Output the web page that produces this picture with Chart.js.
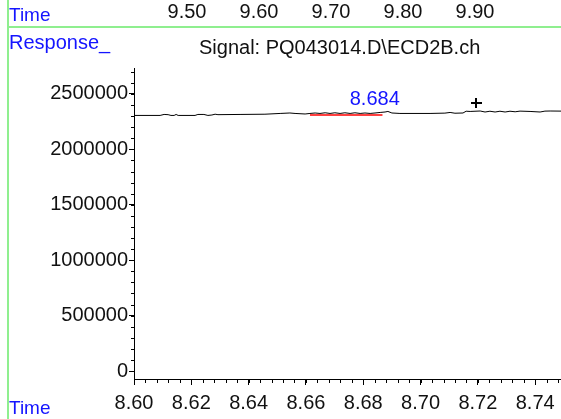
<!DOCTYPE html>
<html>
<head>
<meta charset="utf-8">
<script src="https://cdn.jsdelivr.net/npm/chart.js@4"></script>
<style>
  body { margin: 0; background: #fff; }
  #wrap { position: relative; width: 561px; height: 419px; overflow: hidden; font-family: 'Liberation Sans', Arial, sans-serif; }
  #chart { position: absolute; left: 0; top: 0; }
  .txt { position: absolute; white-space: nowrap; line-height: 1; }
  .blue { color: #1414ff; }
  .green { position: absolute; background: #8fef8f; }
</style>
</head>
<body>
<div id="wrap">
  <canvas id="chart" width="561" height="419"></canvas>
  <div class="green" style="left:7px; top:0; width:2px; height:419px;"></div>
  <div class="green" style="left:7px; top:26px; width:554px; height:2px;"></div>
  <div class="txt blue" style="left:9px; top:5px; font-size:19px;">Time</div>
  <div id="top-times"></div>
  <div class="txt blue" style="left:9px; top:32px; font-size:20px;">Response_</div>
  <div class="txt" style="left:199px; top:37px; font-size:20px; color:#111;">Signal: PQ043014.D\ECD2B.ch</div>
  <div class="txt blue" style="left:9px; top:398px; font-size:19px;">Time</div>
</div>
<script>
// ------------------------------------------------------------
// Cromatograma ECD2B — trecho 8.60 a 8.75 min
// ------------------------------------------------------------

// rótulos do eixo de tempo da janela de cima (9.50 ... 9.90)
const topoTempos = ['9.50', '9.60', '9.70', '9.80', '9.90'];
const topoPosX   = [187, 259, 331, 403, 475];

// sinal (tempo em min, resposta)
const tempos = [
  8.6000, 8.6091, 8.6105, 8.6119, 8.6129, 8.6140, 8.6147, 8.6154, 8.6213, 8.6223,
  8.6244, 8.6258, 8.6272, 8.6283, 8.6293, 8.6370, 8.6457, 8.6510, 8.6544, 8.6562,
  8.6597, 8.6614, 8.6632, 8.6649, 8.6667, 8.6684, 8.6701, 8.6719, 8.6736, 8.6754,
  8.6771, 8.6789, 8.6806, 8.6824, 8.6841, 8.6859, 8.6876, 8.6886, 8.6900, 8.6928,
  8.7033, 8.7085, 8.7103, 8.7120, 8.7148, 8.7159, 8.7173, 8.7208, 8.7225, 8.7242,
  8.7260, 8.7277, 8.7295, 8.7312, 8.7330, 8.7347, 8.7382, 8.7417, 8.7434, 8.7452,
  8.7490,
];
const respostas = [
  2306000, 2306000, 2315000, 2313000, 2306000, 2306000, 2315000, 2306000, 2306000, 2315000,
  2315000, 2306000, 2310000, 2317000, 2313000, 2315000, 2317000, 2324000, 2328000, 2324000,
  2319000, 2324000, 2328000, 2324000, 2330000, 2324000, 2330000, 2324000, 2330000, 2324000,
  2330000, 2324000, 2328000, 2324000, 2328000, 2333000, 2337000, 2342000, 2328000, 2324000,
  2324000, 2327000, 2333000, 2326000, 2328000, 2344000, 2342000, 2346000, 2337000, 2344000,
  2337000, 2344000, 2337000, 2344000, 2339000, 2345000, 2342000, 2337000, 2345000, 2346000,
  2345000,
];

// linha de base da integração (vermelha)
const baseTempos    = [8.6614, 8.6867];
const baseRespostas = [2311000, 2311000];

// pico identificado e marcador "+"
const picoTempo    = 8.684;
const picoRotulo   = '8.684';
const marcaTempo   = 8.7193;
const marcaResp    = 2418000;

// eixos
const xTicks = [8.60, 8.62, 8.64, 8.66, 8.68, 8.70, 8.72, 8.74];
const yTicks = [0, 500000, 1000000, 1500000, 2000000, 2500000];
const X_MIN = 8.60, X_MAX = 8.749;
const Y_MIN = -72000, Y_MAX = 2734000;

const serie = tempos.map((t, i) => ({ x: t, y: respostas[i] }));
const base  = baseTempos.map((t, i) => ({ x: t, y: baseRespostas[i] }));

// rótulos de cima
const topo = document.getElementById('top-times');
topo.innerHTML = topoTempos.map((t, i) =>
  `<div class="txt" style="left:${topoPosX[i] - 30}px; top:1px; width:60px; text-align:center; font-size:20px; color:#111;">${t}</div>`
).join('');

Chart.defaults.font.family = "'Liberation Sans', Arial, sans-serif";
Chart.defaults.color = '#111';

// ticks menores + anotações do pico
const extras = {
  id: 'extras',
  afterDatasetsDraw(chart) {
    const { ctx, scales: { x, y }, chartArea } = chart;
    ctx.save();
    ctx.strokeStyle = '#000';
    ctx.lineWidth = 1;
    ctx.beginPath();
    for (let i = 0; i <= 40; i++) {
      const t = 8.60 + i * 0.004;
      if (t > X_MAX) break;
      const px = Math.round(x.getPixelForValue(t)) + 0.5;
      ctx.moveTo(px, chartArea.bottom);
      ctx.lineTo(px, chartArea.bottom + 4);
    }
    for (let v = 0; v <= Y_MAX; v += 100000) {
      const py = Math.round(y.getPixelForValue(v)) + 0.5;
      ctx.moveTo(chartArea.left - 3, py);
      ctx.lineTo(chartArea.left, py);
    }
    ctx.stroke();

    // rótulo do pico
    ctx.fillStyle = '#1414ff';
    ctx.font = "20px 'Liberation Sans', Arial, sans-serif";
    ctx.textAlign = 'center';
    ctx.textBaseline = 'middle';
    ctx.fillText(picoRotulo, x.getPixelForValue(picoTempo), y.getPixelForValue(baseRespostas[0]) - 15);

    // marcador +
    const mx = Math.round(x.getPixelForValue(marcaTempo));
    const my = Math.round(y.getPixelForValue(marcaResp));
    ctx.lineWidth = 2;
    ctx.beginPath();
    ctx.moveTo(mx - 5, my); ctx.lineTo(mx + 6, my);
    ctx.moveTo(mx, my - 5); ctx.lineTo(mx, my + 5);
    ctx.stroke();
    ctx.restore();
  },
};

new Chart(document.getElementById('chart'), {
  type: 'line',
  data: {
    datasets: [
      {
        data: base,
        borderColor: '#ff0000',
        borderWidth: 1.5,
        pointRadius: 0,
        tension: 0,
      },
      {
        data: serie,
        borderColor: '#000',
        borderWidth: 1,
        pointRadius: 0,
        tension: 0,
      },
    ],
  },
  options: {
    responsive: false,
    animation: false,
    events: [],
    layout: { padding: { top: 68, right: 0, left: 0, bottom: 0 } },
    plugins: { legend: { display: false }, tooltip: { enabled: false } },
    scales: {
      x: {
        type: 'linear',
        min: X_MIN,
        max: X_MAX,
        afterBuildTicks: (s) => { s.ticks = xTicks.map((v) => ({ value: v })); },
        afterFit: (s) => { s.height = 40; },
        ticks: { font: { size: 20 }, padding: 6, maxRotation: 0, callback: (v) => v.toFixed(2) },
        grid: { drawOnChartArea: false, drawTicks: true, tickLength: 6, color: '#000' },
        border: { display: true, color: '#000', width: 1 },
      },
      y: {
        min: Y_MIN,
        max: Y_MAX,
        afterBuildTicks: (s) => { s.ticks = yTicks.map((v) => ({ value: v })); },
        afterFit: (s) => { s.width = 134; },
        ticks: { font: { size: 20 }, padding: 1, callback: (v) => String(v) },
        grid: { drawOnChartArea: false, drawTicks: true, tickLength: 5, color: '#000' },
        border: { display: true, color: '#000', width: 1 },
      },
    },
  },
  plugins: [extras],
});
</script>
</body>
</html>
